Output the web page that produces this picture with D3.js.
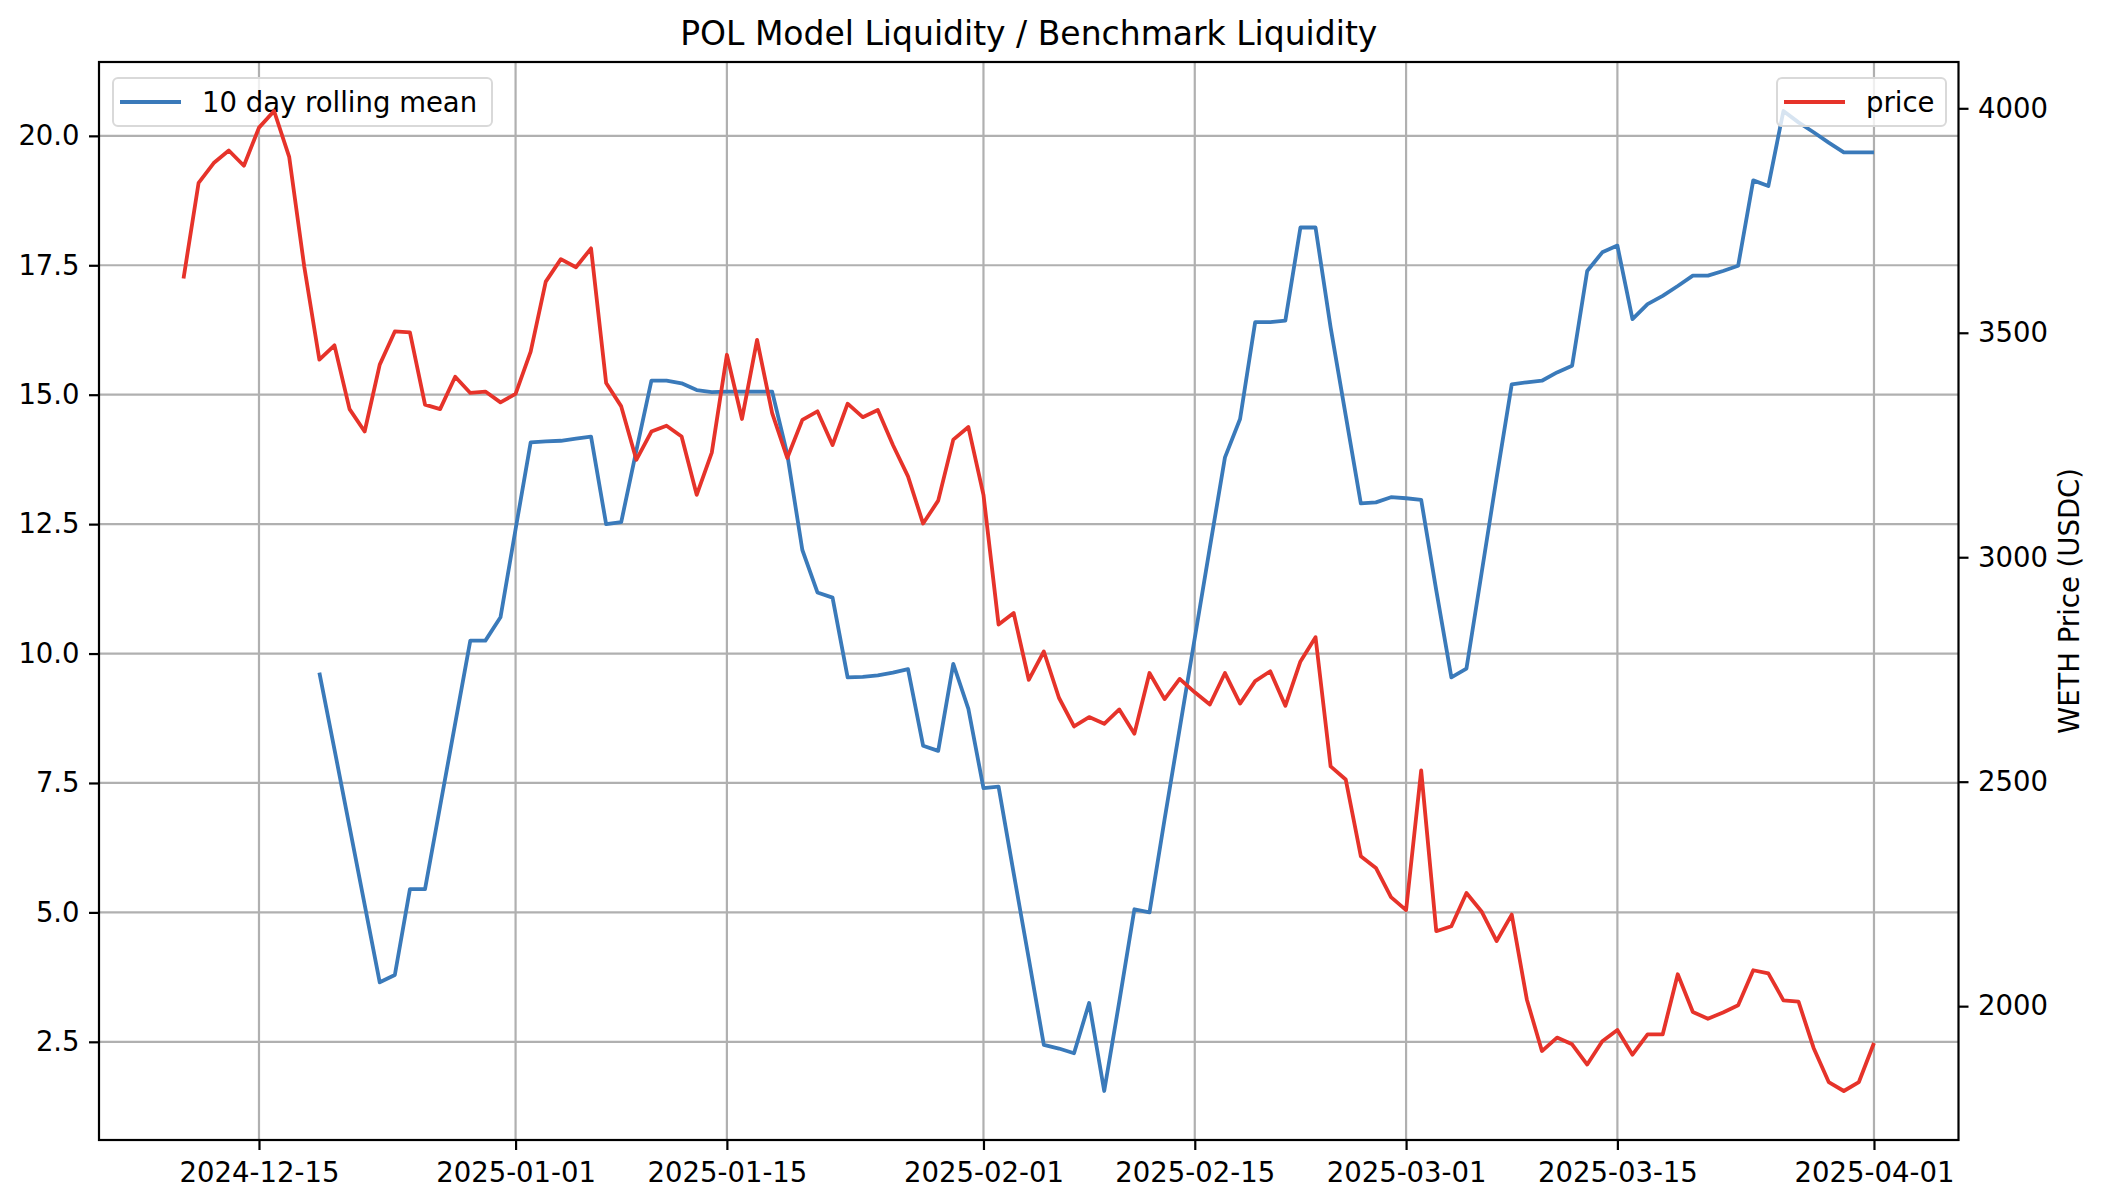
<!DOCTYPE html>
<html><head><meta charset="utf-8">
<script src="https://cdn.jsdelivr.net/npm/d3@7"></script>
<style>body{margin:0;background:#fff}svg{display:block}text{font-family:"DejaVu Sans",sans-serif;fill:#000}</style>
</head><body>
<svg id="c" width="2106" height="1202"></svg>
<script>
// ---- data ----
const startDate = "2024-12-10";
const endDate = "2025-04-01";
const priceValues = [
3621,3834,3878,3906,3872,3957,3994,3892,3647,3440,3472,3330,3280,3429,3503,3501,3340,3330,3402,3366,3369,3345,
3364,3458,3614,3664,3646,3688,3388,3336,3217,3280,3293,3269,3139,3233,3451,3308,3484,3321,3221,3306,3325,3250,3342,3312,3328,3250,3180,3075,3126,3262,3290,
3139,2850,2876,2727,2790,2687,2623,2644,2629,2661,2607,2742,2684,2729,2699,2672,2742,2674,2724,2746,2669,2768,2822,2534,2505,2334,2308,2243,
2214,2525,2167,2178,2252,2211,2145,2204,2015,1900,1930,1915,1870,1922,1947,1892,1937,1937,2071,1987,1972,1986,2002,2080,2073,2013,2010,1907,1831,1811,1831,
1918];
const rollingMeanValues = [
null,null,null,null,null,null,null,null,null,
9.63,8.15,6.65,5.15,3.65,3.79,5.45,5.45,7.05,8.65,10.25,10.25,10.7,
12.4,14.08,14.1,14.11,14.15,14.19,12.5,12.54,13.92,15.27,15.27,15.22,15.09,15.05,15.06,15.06,15.06,15.06,13.85,12.0,11.18,11.08,9.54,9.55,9.58,9.63,9.7,8.22,8.12,9.8,8.93,
7.4,7.43,5.76,4.11,2.44,2.37,2.28,3.25,1.55,3.28,5.06,5.0,6.8,8.55,10.3,12.05,13.79,14.53,16.4,16.4,16.43,18.23,18.23,16.3,14.6,12.9,12.92,13.02,
13.0,12.97,11.22,9.54,9.71,11.55,13.4,15.2,15.24,15.27,15.43,15.56,17.39,17.75,17.88,16.46,16.75,16.91,17.1,17.3,17.3,17.39,17.49,19.14,19.03,20.48,20.26,20.07,19.87,19.68,19.68,
19.68];
const xTickLabels = ["2024-12-15","2025-01-01","2025-01-15","2025-02-01","2025-02-15","2025-03-01","2025-03-15","2025-04-01"];
const leftTickValues = [2.5,5.0,7.5,10.0,12.5,15.0,17.5,20.0];
const rightTickValues = [2000,2500,3000,3500,4000];
const titleText = "POL Model Liquidity / Benchmark Liquidity";
const rightAxisLabel = "WETH Price (USDC)";
const seriesNames = ["10 day rolling mean","price"];

// ---- layout ----
const W = 2106, H = 1202;
const L = 99, R = 1958.5, T = 62, B = 1140;
const FS = 27.5;
const blue = "#3a7aba", red = "#e6332a";
const LW = 3.8;
const parse = d3.utcParse("%Y-%m-%d");
const dates = d3.utcDay.range(parse(startDate), d3.utcDay.offset(parse(endDate), 1));
const svg = d3.select("#c");

function padded(ext){ const s = ext[1]-ext[0]; return [ext[0]-0.05*s, ext[1]+0.05*s]; }
const tExt = d3.extent(dates);
const tSpan = tExt[1]-tExt[0];
const x = d3.scaleUtc().domain([new Date(+tExt[0]-0.05*tSpan), new Date(+tExt[1]+0.05*tSpan)]).range([L,R]);
const yL = d3.scaleLinear().domain(padded(d3.extent(rollingMeanValues.filter(v=>v!=null)))).range([B,T]);
const yR = d3.scaleLinear().domain(padded(d3.extent(priceValues))).range([B,T]);

// grid (primary axes)
const gGrid = svg.append("g").attr("stroke","#b0b0b0").attr("stroke-width",2.2);
xTickLabels.forEach(s=>{ const xx = x(parse(s)); gGrid.append("line").attr("x1",xx).attr("x2",xx).attr("y1",T).attr("y2",B); });
leftTickValues.forEach(v=>{ const yy = yL(v); gGrid.append("line").attr("x1",L).attr("x2",R).attr("y1",yy).attr("y2",yy); });

// blue line
const blueData = dates.map((d,i)=>({d, v: rollingMeanValues[i]}));
svg.append("path").datum(blueData)
  .attr("fill","none").attr("stroke",blue).attr("stroke-width",LW).attr("stroke-linejoin","round")
  .attr("d", d3.line().defined(p=>p.v!=null).x(p=>x(p.d)).y(p=>yL(p.v)));

// legend helper
function legend(x0, y0, w, h, color, label){
  const g = svg.append("g");
  g.append("rect").attr("x",x0).attr("y",y0).attr("width",w).attr("height",h).attr("rx",5)
    .attr("fill","#fff").attr("fill-opacity",0.8).attr("stroke","#d9d9d9").attr("stroke-width",2);
  const cy = y0 + h/2;
  g.append("line").attr("x1",x0+7).attr("x2",x0+68).attr("y1",cy).attr("y2",cy).attr("stroke",color).attr("stroke-width",LW);
  g.append("text").attr("x",x0+89).attr("y",cy).attr("dy","0.36em").attr("font-size",FS).text(label);
}
legend(113, 78, 379, 48, blue, seriesNames[0]);

// red line (secondary axes, drawn on top)
const redData = dates.map((d,i)=>({d, v: priceValues[i]}));
svg.append("path").datum(redData)
  .attr("fill","none").attr("stroke",red).attr("stroke-width",LW).attr("stroke-linejoin","round")
  .attr("d", d3.line().x(p=>x(p.d)).y(p=>yR(p.v)));

legend(1777, 78, 169, 48, red, seriesNames[1]);

// spines
svg.append("rect").attr("x",L).attr("y",T).attr("width",R-L).attr("height",B-T)
  .attr("fill","none").attr("stroke","#000").attr("stroke-width",2.2);

// axes
const tickLen = 10, pad = 9.4;
const ax = svg.append("g").attr("transform",`translate(0,${B})`)
  .call(d3.axisBottom(x).tickValues(xTickLabels.map(parse)).tickFormat(d3.utcFormat("%Y-%m-%d")).tickSize(tickLen).tickPadding(pad));
const ayl = svg.append("g").attr("transform",`translate(${L},0)`)
  .call(d3.axisLeft(yL).tickValues(leftTickValues).tickFormat(d3.format(".1f")).tickSize(tickLen).tickPadding(pad));
const ayr = svg.append("g").attr("transform",`translate(${R},0)`)
  .call(d3.axisRight(yR).tickValues(rightTickValues).tickFormat(d3.format("d")).tickSize(tickLen).tickPadding(pad));
[ax,ayl,ayr].forEach(g=>{
  g.select(".domain").remove();
  g.selectAll(".tick line").attr("stroke","#000").attr("stroke-width",2.2);
  g.selectAll(".tick text").attr("font-size",FS).attr("font-family","DejaVu Sans").attr("fill","#000");
});
ax.selectAll(".tick text").attr("dy","0.82em");

// title
svg.append("text").attr("x",(L+R)/2).attr("y",45).attr("text-anchor","middle").attr("font-size",33).text(titleText);
// right axis label
svg.append("text").attr("transform",`translate(2079,${(T+B)/2}) rotate(-90)`).attr("text-anchor","middle").attr("font-size",FS).text(rightAxisLabel);
</script>
</body></html>
